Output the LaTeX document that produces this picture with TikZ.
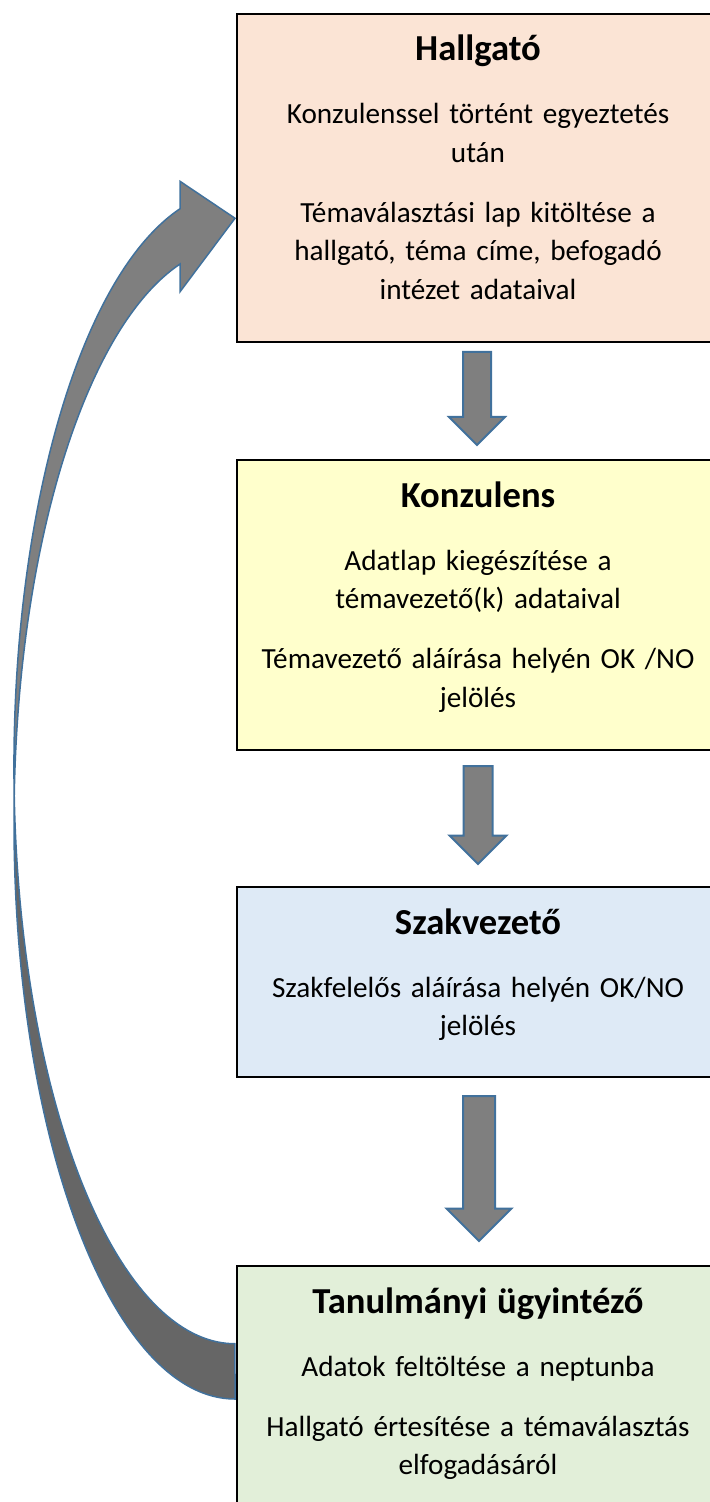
\documentclass[tikz,border=0pt]{standalone}
\usepackage{fontspec}
\setmainfont{Carlito}
\usetikzlibrary{positioning,calc,shapes.arrows}

\definecolor{hallgfill}{HTML}{FBE4D5}
\definecolor{konzfill}{HTML}{FFFFCC}
\definecolor{szakfill}{HTML}{DEEAF6}
\definecolor{tanfill}{HTML}{E2EFD9}
\definecolor{arrfill}{HTML}{7F7F7F}
\definecolor{arrdark}{HTML}{666666}
\definecolor{arrline}{HTML}{41719C}

\newcommand{\roletitle}[1]{{\fontsize{18.3}{22}\selectfont\bfseries #1}\\[12.25pt]}

\begin{document}
\begin{tikzpicture}[x=0.5pt,y=0.5pt,
	every node/.style={font=\fontsize{14.6}{19.25}\selectfont},
	role/.style={rectangle,draw=black,line width=1pt,text width=233pt,align=center,
		inner xsep=4pt,inner ysep=0pt,text height=23.5pt},
	downarr/.style={single arrow,draw=arrline,fill=arrfill,line width=1pt,rotate=-90,
		inner xsep=0pt,minimum width=0pt,anchor=tail},
	ellarc/.style={x radius=110.5pt,y radius=288.28pt}]

	\useasboundingbox (0,0) rectangle (710,-1502);
	\clip (0,0) rectangle (710,-1502);

	% szerepek
	\node[role,fill=hallgfill,text depth=140.5pt,anchor=north] (hallg) at (478,-13)
		{\roletitle{Hallgató}
		Konzulenssel történt egyeztetés\\ után\\[10.75pt]
		Témaválasztási lap kitöltése a\\ hallgató, téma címe, befogadó\\ intézet adataival};
	\node[role,fill=konzfill,text depth=121.5pt] (konz) [below=58pt of hallg]
		{\roletitle{Konzulens}
		Adatlap kiegészítése a\\ témavezető(k) adataival\\[10.75pt]
		Témavezető aláírása helyén OK /NO\\ jelölés};
	\node[role,fill=szakfill,text depth=71.5pt] (szak) [below=67.5pt of konz]
		{\roletitle{Szakvezető}
		Szakfelelős aláírása helyén OK/NO\\ jelölés};
	\node[role,fill=tanfill,text depth=110pt] (tanul) [below=93.5pt of szak]
		{\roletitle{Tanulmányi ügyintéző}
		Adatok feltöltése a neptunba\\[10.75pt]
		Hallgató értesítése a témaválasztás\\ elfogadásáról};

	% lefele nyilak
	\node[downarr,minimum height=46.5pt,inner ysep=6.5pt,single arrow head extend=7pt]
		(arr1) at ($(hallg.south)+(-1,-8)$) {};
	\node[downarr,minimum height=49pt,inner ysep=6.75pt,single arrow head extend=7pt]
		(arr2) at ($(konz.south)+(0,-14)$) {};
	\node[downarr,minimum height=72.5pt,inner ysep=7.5pt,single arrow head extend=8.25pt]
		(arr3) at ($(szak.south)+(1,-17)$) {};

	% visszacsatolo ives nyil
	\fill[arrdark] (235,-1399) arc[ellarc,start angle=270,end angle=180]
		-- (14,-767.19) arc[ellarc,start angle=180,end angle=270] -- cycle;
	\fill[arrfill] (14,-822.44) arc[ellarc,start angle=180,end angle=104.41]
		-- (180,-291.8) -- (235,-218.25) -- (180,-181.3) -- (180,-208.77)
		arc[ellarc,start angle=104.41,end angle=180] -- cycle;
	\draw[arrline,line width=0.75pt] (235,-1399) arc[ellarc,start angle=270,end angle=104.41]
		-- (180,-291.8) -- (235,-218.25) -- (180,-181.3) -- (180,-208.77)
		arc[ellarc,start angle=104.41,end angle=270] -- cycle;
\end{tikzpicture}
\end{document}
